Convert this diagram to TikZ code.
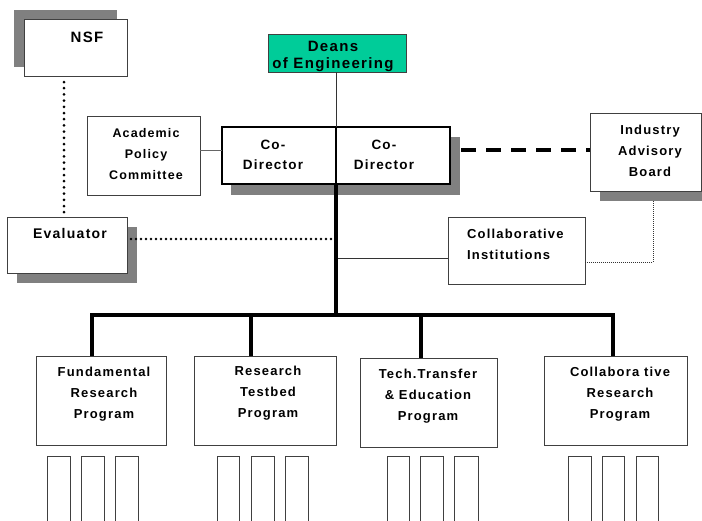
\documentclass[tikz,border=0pt]{standalone}
\usepackage{fontspec}
\setmainfont{Liberation Sans}[LetterSpace=9]
\usetikzlibrary{calc}
\definecolor{deangreen}{RGB}{0,204,153}
\definecolor{shadowgray}{RGB}{128,128,128}
\tikzset{
  box/.style={draw=black!75, line width=1pt, fill=white, inner sep=0pt, outer sep=0pt},
  thickbox/.style={draw=black, line width=2.6pt, fill=white, inner sep=0pt, outer sep=0pt},
  shadowfill/.style={fill=shadowgray, draw=none},
  txt/.style={font=\bfseries\fontsize{13}{21}\selectfont, align=center, inner sep=0pt},
  thinline/.style={draw=black!80, line width=0.9pt},
  busline/.style={draw=black, line width=4pt},
  bigdots/.style={draw=black, line width=3pt, line cap=round, dash pattern=on 0pt off 6.2pt},
  smalldots/.style={draw=black, line width=2.6pt, line cap=round, dash pattern=on 0pt off 5pt},
  finedots/.style={draw=black!80, line width=0.8pt, dash pattern=on 0.8pt off 1.2pt},
  dashline/.style={draw=black, line width=4pt, dash pattern=on 15pt off 10pt},
}
\newcommand\mkbox[6][]{%
  \pgfmathsetmacro\bw{#5-#3}\pgfmathsetmacro\bh{#6-#4}%
  \node[box,#1,minimum width=\bw pt,minimum height=\bh pt] (#2) at ({(#3+#5)/2},{(#4+#6)/2}) {};}
\begin{document}
\begin{tikzpicture}[x=1pt,y=-1pt]
\useasboundingbox (0,0) rectangle (702,520);
\clip (0,0) rectangle (702,520);
\fill[white] (0,0) rectangle (702,520);

% shadows
\fill[shadowfill] (14,10) rectangle (117,67);
\fill[shadowfill] (231,137) rectangle (460,195);
\fill[shadowfill] (17,227) rectangle (137,283);
\fill[shadowfill] (600,123) rectangle (711,201);

% boxes
\mkbox{NSF}{24}{19}{127}{76}
\mkbox[fill=deangreen]{Deans}{268}{34}{406}{72}
\mkbox[thickbox]{codl}{222}{127}{336}{184}
\mkbox[thickbox]{codr}{336}{127}{450}{184}
\mkbox{APC}{87}{116}{200}{195}
\mkbox{Eval}{7}{217}{127}{273}
\mkbox{IAB}{590}{113}{701}{191}
\mkbox{Collab}{448}{217}{585}{284}
\mkbox{P1}{36}{356}{166}{445}
\mkbox{P2}{194}{356}{336}{445}
\mkbox{P3}{360}{358}{497}{447}
\mkbox{P4}{544}{356}{687}{445}

% sub-program boxes
\foreach \n/\xa/\xb in {s1/47/70,s2/81/104,s3/115/138,
  s4/217/239,s5/251/274,s6/285/308,
  s7/387/409,s8/420/443,s9/454/478,
  s10/568/591,s11/602/624,s12/636/658}{
  \mkbox{\n}{\xa}{456}{\xb}{540}
}

% texts
\node[txt, font=\bfseries\fontsize{15}{18}\selectfont] (tNSF) at (87,37) {NSF};
\node[txt, font=\bfseries\fontsize{15}{17}\selectfont] (tDeans) at (333,56) {Deans\\of Engineering};
\node[txt, font=\bfseries\fontsize{13.5}{20}\selectfont] (tcodl) at (273,155) {Co-\\Director};
\node[txt, font=\bfseries\fontsize{13.5}{20}\selectfont] (tcodr) at (384,155) {Co-\\Director};
\node[txt, font=\bfseries\fontsize{12.5}{21}\selectfont] (tAPC) at (146,154) {Academic\\Policy\\Committee};
\node[txt, font=\bfseries\fontsize{14}{18}\selectfont] (tEval) at (70,233) {Evaluator};
\node[txt] (tIAB) at (650,151) {Industry\\Advisory\\Board};
\node[txt, align=left, anchor=west] (tCollab) at (467,244) {Collaborative\\Institutions};
\node[txt] (tP1) at (104,394) {Fundamental\\Research\\Program};
\node[txt] (tP2) at (268,393) {Research\\Testbed\\Program};
\node[txt] (tP3) at (428,396) {Tech.Transfer\\\& Education\\Program};
\node[txt] (tP4) at (620,394) {Collabora tive\\Research\\Program};

% helper coordinates
\coordinate (nsfx) at (64,0);
\coordinate (apcy) at (0,150);
\coordinate (evend) at (333,239);
\coordinate (colly) at (0,258);
\coordinate (dashstart) at (461,150);
\coordinate (iabx) at (653,0);
\coordinate (iabturn) at (653,262);
\coordinate (bus) at (336,315);
\coordinate (d1) at (92,315);
\coordinate (d2) at (251,315);
\coordinate (d3) at (421,315);
\coordinate (d4) at (613,315);

% connectors
\draw[bigdots] (NSF.south -| nsfx) ++(0,6) -- (Eval.north -| nsfx);
\draw[thinline] (Deans.south -| codl.north east) -- (codl.north east);
\draw[draw=black!60, line width=1pt] (APC.east |- apcy) -- (codl.west |- apcy);
\draw[dashline] (dashstart) -- (IAB.west |- dashstart);
\draw[smalldots] (Eval.east |- evend) ++(4,0) -- (evend);
\draw[thinline] (bus |- colly) -- (Collab.west |- colly);
\draw[finedots] (IAB.south -| iabx) ++(0,10) -- (iabturn) -- (Collab.east |- iabturn);
\draw[busline] (codl.south east) -- (bus);
\draw[busline, line cap=rect] (d1) -- (d4);
\draw[busline] (d1) -- (P1.north -| d1);
\draw[busline] (d2) -- (P2.north -| d2);
\draw[busline] (d3) -- (P3.north -| d3);
\draw[busline] (d4) -- (P4.north -| d4);
\end{tikzpicture}
\end{document}
